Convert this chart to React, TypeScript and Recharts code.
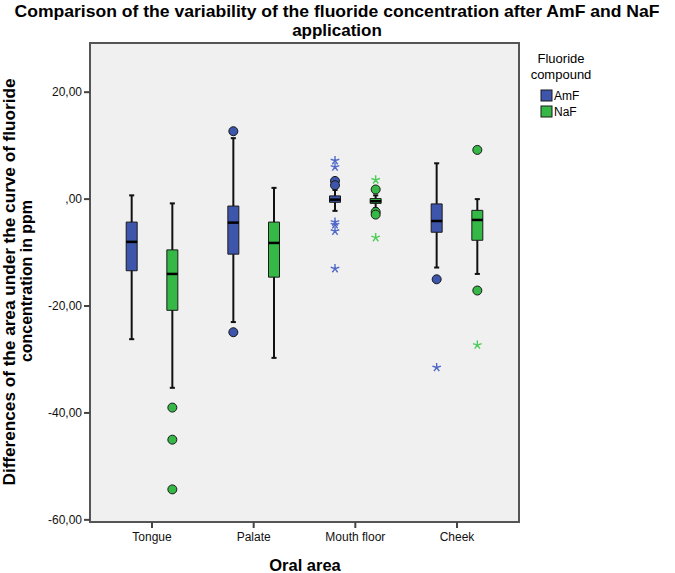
import { ComposedChart, XAxis, YAxis, CartesianGrid, ReferenceArea, ReferenceLine, Scatter } from 'recharts';

const categories = ['Tongue', 'Palate', 'Mouth floor', 'Cheek'];
const yTicks = [-60, -40, -20, 0, 20];

// box plot statistics per oral area
const amfLow = [-26.2, -23.0, -2.2, -12.8];
const amfQ1 = [-13.4, -10.3, -0.6, -6.2];
const amfMedian = [-8.0, -4.4, -0.1, -4.1];
const amfQ3 = [-4.3, -1.3, 0.6, -0.9];
const amfHigh = [0.7, 11.4, 1.7, 6.7];

const nafLow = [-35.3, -29.7, -1.7, -14.0];
const nafQ1 = [-20.8, -14.6, -0.8, -7.7];
const nafMedian = [-14.0, -8.2, -0.4, -3.9];
const nafQ3 = [-9.5, -4.3, 0.1, -2.1];
const nafHigh = [-0.8, 2.1, 0.7, 0.0];

// outliers as [category index, value]
const amfCircles = [[1, 12.7], [1, -24.9], [2, 3.4], [2, 2.6], [3, -15.0]];
const amfStars = [[2, 7.2], [2, 6.0], [2, -4.3], [2, -4.8], [2, -6.0], [2, -13.0], [3, -31.5]];
const nafCircles = [[0, -39.0], [0, -45.0], [0, -54.3], [2, 1.8], [2, -2.4], [2, -2.9], [3, 9.2], [3, -17.1]];
const nafStars = [[2, 3.6], [2, -7.2], [3, -27.3]];

const AMF_COLOR = '#3d55ab';
const NAF_COLOR = '#35b845';
const AMF_STAR = '#5068c8';
const NAF_STAR = '#4ccc5a';

const X_DOMAIN = [-0.61, 3.61];
const Y_DOMAIN = [-60.4, 29.2];
const OFFSET = 0.2;
const HALF_BOX = 0.054;
const HALF_CAP = 0.025;
const FONT = 'Arial, "Liberation Sans", sans-serif';

const groups = [
  { name: 'AmF', color: AMF_COLOR, dx: -OFFSET, low: amfLow, q1: amfQ1, med: amfMedian, q3: amfQ3, high: amfHigh },
  { name: 'NaF', color: NAF_COLOR, dx: OFFSET, low: nafLow, q1: nafQ1, med: nafMedian, q3: nafQ3, high: nafHigh },
];

const toPoints = (list: number[][], dx: number) => list.map(([c, v]) => ({ x: c + dx, y: v }));

const fmt = (v: number) => (v === 0 ? ',00' : v.toFixed(2).replace('.', ','));

const circleShape = (color: string) => (props: any) => (
  <circle cx={props.cx} cy={props.cy} r={4.5} fill={color} stroke="#1a1a1a" strokeWidth={1} />
);

const starShape = (color: string) => (props: any) => {
  const { cx, cy } = props;
  const r = 4.5;
  let d = '';
  for (let i = 0; i < 5; i++) {
    const a = -Math.PI / 2 + (i * 2 * Math.PI) / 5;
    d += `M${cx},${cy}L${cx + r * Math.cos(a)},${cy + r * Math.sin(a)}`;
  }
  return <path d={d} stroke={color} strokeWidth={1.4} fill="none" />;
};

export default function App() {
  return (
    <div style={{ position: 'absolute', left: 0, top: 0, width: 675, height: 573, background: '#fff' }}>
      <ComposedChart width={675} height={573} margin={{ top: 43, right: 156, bottom: 0, left: 0 }}>
        <CartesianGrid horizontal={false} vertical={false} fill="#f0f0f0" />
        <XAxis
          type="number"
          dataKey="x"
          domain={X_DOMAIN}
          allowDataOverflow
          ticks={[0, 1, 2, 3]}
          tickFormatter={(i: number) => categories[i]}
          height={51}
          axisLine={false}
          tickSize={6}
          tickMargin={4}
          tickLine={{ stroke: '#444', strokeWidth: 2 }}
          tick={{ fill: '#111', fontSize: 12, fontFamily: FONT }}
        />
        <YAxis
          type="number"
          dataKey="y"
          domain={Y_DOMAIN}
          allowDataOverflow
          ticks={yTicks}
          tickFormatter={fmt}
          width={90}
          axisLine={false}
          tickSize={6}
          tickMargin={2}
          tickLine={{ stroke: '#444', strokeWidth: 2 }}
          tick={{ fill: '#111', fontSize: 12, fontFamily: FONT }}
        />
        <ReferenceArea x1={X_DOMAIN[0]} x2={X_DOMAIN[1]} y1={Y_DOMAIN[0]} y2={Y_DOMAIN[1]} fill="none" stroke="#555" strokeWidth={2} />
        {groups.map((g) =>
          categories.map((_, i) => {
            const x = i + g.dx;
            return [
              <ReferenceLine key={`${g.name}-wl-${i}`} segment={[{ x, y: g.low[i] }, { x, y: g.q1[i] }]} stroke="#111" strokeWidth={2} />,
              <ReferenceLine key={`${g.name}-wh-${i}`} segment={[{ x, y: g.q3[i] }, { x, y: g.high[i] }]} stroke="#111" strokeWidth={2} />,
              <ReferenceLine key={`${g.name}-cl-${i}`} segment={[{ x: x - HALF_CAP, y: g.low[i] }, { x: x + HALF_CAP, y: g.low[i] }]} stroke="#111" strokeWidth={2} />,
              <ReferenceLine key={`${g.name}-ch-${i}`} segment={[{ x: x - HALF_CAP, y: g.high[i] }, { x: x + HALF_CAP, y: g.high[i] }]} stroke="#111" strokeWidth={2} />,
              <ReferenceArea key={`${g.name}-box-${i}`} x1={x - HALF_BOX} x2={x + HALF_BOX} y1={g.q1[i]} y2={g.q3[i]} fill={g.color} fillOpacity={1} stroke="#1a1a1a" strokeWidth={1} />,
              <ReferenceLine key={`${g.name}-md-${i}`} segment={[{ x: x - HALF_BOX, y: g.med[i] }, { x: x + HALF_BOX, y: g.med[i] }]} stroke="#000" strokeWidth={2.5} />,
            ];
          })
        )}
        <Scatter data={toPoints(amfCircles, -OFFSET)} shape={circleShape(AMF_COLOR)} isAnimationActive={false} />
        <Scatter data={toPoints(amfStars, -OFFSET)} shape={starShape(AMF_STAR)} isAnimationActive={false} />
        <Scatter data={toPoints(nafCircles, OFFSET)} shape={circleShape(NAF_COLOR)} isAnimationActive={false} />
        <Scatter data={toPoints(nafStars, OFFSET)} shape={starShape(NAF_STAR)} isAnimationActive={false} />
      </ComposedChart>
      <svg width={675} height={573} style={{ position: 'absolute', left: 0, top: 0, pointerEvents: 'none' }} fontFamily={FONT}>
        <text x={337} y={17} textAnchor="middle" fontSize={17} fontWeight="bold" textLength={645} lengthAdjust="spacingAndGlyphs">
          Comparison of the variability of the fluoride concentration after AmF and NaF
        </text>
        <text x={337} y={36} textAnchor="middle" fontSize={17} fontWeight="bold">
          application
        </text>
        <text transform="translate(15,282) rotate(-90)" textAnchor="middle" fontSize={16} fontWeight="bold" textLength={407} lengthAdjust="spacingAndGlyphs">
          Differences of the area under the curve of fluoride
        </text>
        <text transform="translate(32,281) rotate(-90)" textAnchor="middle" fontSize={16} fontWeight="bold" textLength={162} lengthAdjust="spacingAndGlyphs">
          concentration in ppm
        </text>
        <text x={305} y={571} textAnchor="middle" fontSize={16.5} fontWeight="bold">
          Oral area
        </text>
        <text x={561} y={63} textAnchor="middle" fontSize={13}>Fluoride</text>
        <text x={561} y={79} textAnchor="middle" fontSize={13}>compound</text>
        {groups.map((g, i) => (
          <g key={g.name}>
            <rect x={541} y={90 + i * 16} width={11} height={11} fill={g.color} stroke="#1a1a1a" strokeWidth={1} />
            <text x={554} y={100 + i * 16} fontSize={12}>{g.name}</text>
          </g>
        ))}
      </svg>
    </div>
  );
}
